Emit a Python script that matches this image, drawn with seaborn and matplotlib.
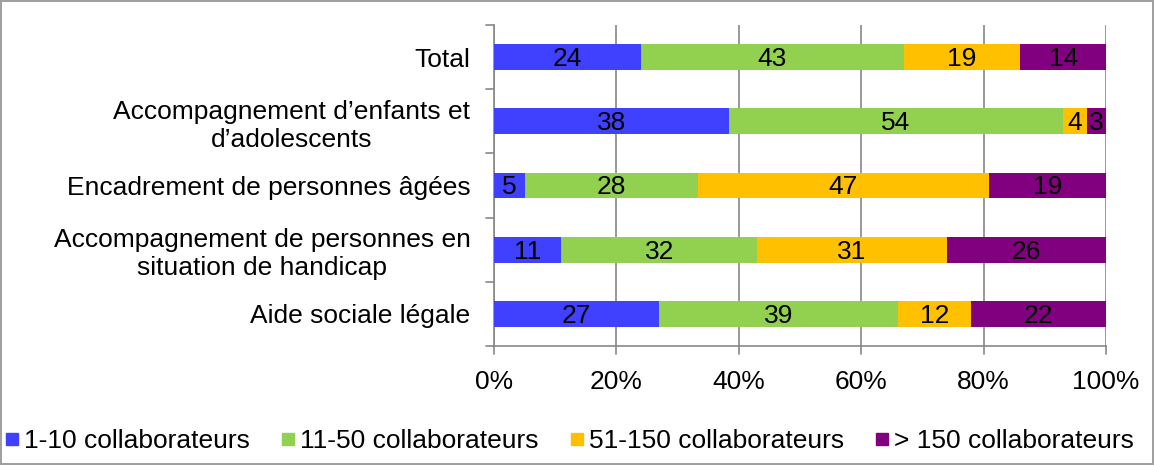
import matplotlib
matplotlib.use("Agg")
import matplotlib.pyplot as plt
import seaborn as sns
import numpy as np
import pandas as pd
from matplotlib.lines import Line2D

categories = ["Total", "Accompagnement d\u2019enfants et\nd\u2019adolescents",
              "Encadrement de personnes âgées",
              "Accompagnement de personnes en\nsituation de handicap",
              "Aide sociale légale"]
series_names = ["1-10 collaborateurs", "11-50 collaborateurs",
                "51-150 collaborateurs", "> 150 collaborateurs"]
s1_10 = [24, 38, 5, 11, 27]
s11_50 = [43, 54, 28, 32, 39]
s51_150 = [19, 4, 47, 31, 12]
s150 = [14, 3, 19, 26, 22]
xticks = [0, 20, 40, 60, 80, 100]
xticklabels = ["0%", "20%", "40%", "60%", "80%", "100%"]
colors = ["#4040FF", "#92D050", "#FFC000", "#800080"]

sns.set_theme(style="white")
plt.rcParams["font.family"] = ["Liberation Sans", "DejaVu Sans"]
plt.rcParams["text.color"] = "black"
plt.rcParams["xtick.color"] = "black"
plt.rcParams["ytick.color"] = "black"
FS = 19

fig = plt.figure(figsize=(11.54, 4.65), dpi=100)
fig.patch.set_edgecolor("#A0A0A0")
fig.patch.set_linewidth(1.5)
ax = fig.add_axes([494/1154, (465-346)/465, 612/1154, 321/465])

vals = np.array([s1_10, s11_50, s51_150, s150], dtype=float)
pct = vals / vals.sum(axis=0) * 100
cum = np.cumsum(pct, axis=0)

for i in range(3, -1, -1):
    df = pd.DataFrame({"cat": categories, "w": cum[i]})
    sns.barplot(data=df, x="w", y="cat", orient="h", color=colors[i],
                saturation=1, width=0.4, ax=ax, zorder=3, edgecolor="none")

for i in range(4):
    for j in range(len(categories)):
        left = cum[i][j] - pct[i][j]
        ax.text(left + pct[i][j] / 2, j + 0.03, str(int(vals[i][j])), ha="center",
                va="center", fontsize=FS, color="black", zorder=4)

ax.set_xlim(0, 100)
ax.set_ylim(len(categories) - 0.5, -0.5)
ax.set_xticks(xticks)
ax.set_xticklabels(xticklabels, fontsize=FS, color="black")
ax.set_yticks(range(len(categories)))
ax.set_yticklabels(categories, fontsize=FS, multialignment="center", color="black")
ax.tick_params(axis="y", length=0, pad=17)
ax.tick_params(axis="x", length=0, pad=17)
ax.set_xlabel("")
ax.set_ylabel("")
for b in np.arange(-0.5, len(categories), 1.0):
    ax.plot([-1.3, 0], [b, b], color="#888888", lw=1.2, clip_on=False, zorder=5)
for xt in xticks:
    ax.plot([xt, xt], [len(categories) - 0.5, len(categories) - 0.5 + 0.13],
            color="#888888", lw=1.2, clip_on=False, zorder=5)
ax.grid(axis="x", color="#888888", lw=1.2, zorder=0)
ax.set_axisbelow(True)
for s in ["top", "right"]:
    ax.spines[s].set_visible(False)
for s in ["left", "bottom"]:
    ax.spines[s].set_color("#888888")
    ax.spines[s].set_linewidth(1.2)

handles = [Line2D([0], [0], marker="s", linestyle="none", markersize=9,
                  markerfacecolor=c, markeredgecolor=c) for c in colors]
fig.legend(handles, series_names, loc="center", bbox_to_anchor=(0.492, 1 - 441/465),
           ncol=4, frameon=False, fontsize=FS, handletextpad=0.05,
           columnspacing=1.05, handlelength=0.8)

fig.savefig("out.png", dpi=100)
